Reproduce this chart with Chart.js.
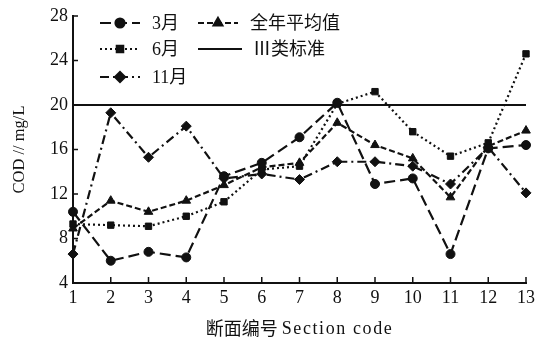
<!DOCTYPE html>
<html>
<head>
<meta charset="utf-8">
<script src="https://cdn.jsdelivr.net/npm/chart.js@4.4.1/dist/chart.umd.min.js"></script>
<style>
  body { margin: 0; background: #fff; }
  #wrap { width: 539px; height: 339px; }
</style>
</head>
<body>
<div id="wrap"><canvas id="grafico"></canvas></div>
<script>
const secciones = ['1', '2', '3', '4', '5', '6', '7', '8', '9', '10', '11', '12', '13'];
const cod3 = [10.4, 6.0, 6.8, 6.3, 13.6, 14.8, 17.1, 20.2, 12.9, 13.4, 6.6, 16.1, 16.4];
const cod6 = [9.3, 9.2, 9.1, 10.0, 11.3, 14.2, 14.5, 20.1, 21.2, 17.6, 15.4, 16.6, 24.6];
const codMedia = [8.9, 11.4, 10.4, 11.4, 12.8, 14.4, 14.8, 18.4, 16.4, 15.2, 11.7, 16.3, 17.7];
const cod11 = [6.6, 19.3, 15.3, 18.1, 13.4, 13.8, 13.3, 14.9, 14.9, 14.5, 12.9, 16.2, 12.1];
const estandar = [20, 20, 20, 20, 20, 20, 20, 20, 20, 20, 20, 20, 20];
const ticksY = [4, 8, 12, 16, 20, 24, 28];

const fuente = "'Liberation Serif', 'Noto Sans CJK SC', serif";
const negro = '#111';

function serie(label, data, dash, estilo, radio) {
  return {
    label: label,
    data: data,
    borderColor: negro,
    backgroundColor: negro,
    borderWidth: 2.2,
    borderDash: dash,
    pointStyle: estilo,
    pointRadius: radio,
    pointBorderWidth: 1,
    tension: 0
  };
}

// marcas de escala hacia dentro del área
const marcasDentro = {
  id: 'marcasDentro',
  afterDraw(chart) {
    const ctx = chart.ctx;
    const x = chart.scales.x, y = chart.scales.y;
    ctx.save();
    ctx.strokeStyle = negro;
    ctx.lineWidth = 1.5;
    ctx.beginPath();
    y.ticks.forEach(t => {
      const py = y.getPixelForValue(t.value);
      ctx.moveTo(x.left, py);
      ctx.lineTo(x.left + 5, py);
    });
    x.ticks.forEach((t, i) => {
      const px = x.getPixelForTick(i);
      ctx.moveTo(px, y.bottom);
      ctx.lineTo(px, y.bottom - 6);
    });
    ctx.stroke();

    // título del eje x: parte china + parte latina espaciada
    const cn = '断面编号 ', en = 'Section code';
    ctx.fillStyle = negro;
    ctx.textBaseline = 'middle';
    ctx.font = "18px 'Noto Sans CJK SC'";
    const w1 = ctx.measureText(cn).width;
    ctx.font = "18px 'Liberation Serif'";
    ctx.letterSpacing = '1.6px';
    const w2 = ctx.measureText(en).width;
    const x0 = (x.left + x.right) / 2 - (w1 + w2) / 2;
    ctx.fillText(en, x0 + w1, 329);
    ctx.letterSpacing = '0px';
    ctx.font = "18px 'Noto Sans CJK SC'";
    ctx.fillText(cn, x0, 328);
    ctx.restore();
  }
};

// leyenda dentro del gráfico, dos columnas
const leyenda = {
  id: 'leyenda',
  afterDraw(chart) {
    const ctx = chart.ctx;
    const pos = [[100, 23], [100, 49], [100, 77], [198, 23], [198, 49]];
    const orden = [0, 1, 3, 2, 4];
    ctx.save();
    ctx.font = '18px ' + fuente;
    ctx.fillStyle = negro;
    ctx.textBaseline = 'middle';
    orden.forEach((idx, k) => {
      const ds = chart.data.datasets[idx];
      const [x0, y0] = pos[k];
      const largo = ds.pointRadius ? 40 : 44;
      ctx.strokeStyle = negro;
      ctx.lineWidth = 2.2;
      ctx.setLineDash(ds.borderDash || []);
      ctx.beginPath();
      ctx.moveTo(x0, y0);
      ctx.lineTo(x0 + largo, y0);
      ctx.stroke();
      ctx.setLineDash([]);
      if (ds.pointRadius) {
        Chart.helpers.drawPoint(ctx, {
          pointStyle: ds.pointStyle, radius: ds.pointRadius, borderWidth: 1, rotation: 0
        }, x0 + largo / 2, y0);
        ctx.fillStyle = negro;
      }
      ctx.fillText(ds.label, x0 + largo + (ds.pointRadius ? 12 : 11), y0 + 1);
    });
    ctx.restore();
  }
};

const ctx = document.getElementById('grafico').getContext('2d');
new Chart(ctx, {
  type: 'line',
  data: {
    labels: secciones,
    datasets: [
      serie('3月', cod3, [11, 5], 'circle', 4.5),
      serie('6月', cod6, [2, 3], 'rect', 4.5),
      serie('全年平均值', codMedia, [6, 3], 'triangle', 5),
      serie('11月', cod11, [9, 4, 2, 4], 'rectRot', 5),
      serie('Ⅲ类标准', estandar, [], 'circle', 0)
    ]
  },
  options: {
    responsive: true,
    maintainAspectRatio: false,
    animation: false,
    layout: { padding: { top: 16, right: 11, left: 0, bottom: 0 } },
    plugins: { legend: { display: false }, tooltip: { enabled: false } },
    scales: {
      x: {
        offset: false,
        grid: { display: false, drawTicks: false },
        border: { display: true, color: negro, width: 2 },
        ticks: { color: negro, font: { family: fuente, size: 18 }, padding: 4, maxRotation: 0 },
        afterFit: s => { s.height = 56; }
      },
      y: {
        min: 4,
        max: 28,
        afterBuildTicks: s => { s.ticks = ticksY.map(v => ({ value: v })); },
        grid: { display: false, drawTicks: false },
        border: { display: true, color: negro, width: 2 },
        ticks: { color: negro, font: { family: fuente, size: 18 }, padding: 5 },
        title: {
          display: true, text: 'COD // mg/L', color: negro,
          font: { family: fuente, size: 16.5 }, padding: { top: 10, bottom: 4 }
        },
        afterFit: s => { s.width = 73; }
      }
    }
  },
  plugins: [marcasDentro, leyenda]
});
</script>
</body>
</html>
